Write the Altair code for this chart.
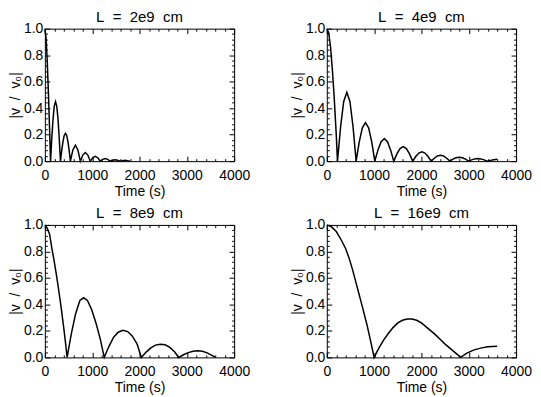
import altair as alt
import pandas as pd

FONT = "Liberation Sans"

TITLES = ["L\u00a0\u00a0=\u00a0\u00a02e9\u00a0\u00a0cm", "L\u00a0\u00a0=\u00a0\u00a04e9\u00a0\u00a0cm",
          "L\u00a0\u00a0=\u00a0\u00a08e9\u00a0\u00a0cm", "L\u00a0\u00a0=\u00a0\u00a016e9\u00a0\u00a0cm"]
X_TITLE = "Time (s)"
Y_TITLE = "|v\u00a0\u00a0/\u00a0\u00a0v\u2080|"

# tick positions (major ticks are every 1000 s and every 0.2)
X_TICKS = [0, 200, 400, 600, 800, 1000, 1200, 1400, 1600, 1800, 2000, 2200, 2400,
           2600, 2800, 3000, 3200, 3400, 3600, 3800, 4000]
Y_TICKS = [0.0, 0.04, 0.08, 0.12, 0.16, 0.2, 0.24, 0.28, 0.32, 0.36, 0.4, 0.44, 0.48,
           0.52, 0.56, 0.6, 0.64, 0.68, 0.72, 0.76, 0.8, 0.84, 0.88, 0.92, 0.96, 1.0]

# L = 2e9 cm
P1_T = [0, 25, 50, 75, 100, 120, 146, 173, 199, 225, 251, 278, 304, 330,
        356, 383, 409, 435, 461, 488, 514, 540,
        592, 645, 698, 750, 802, 855, 908, 960, 1012, 1065, 1118, 1170,
        1222, 1275, 1328, 1380, 1432, 1485, 1538, 1590, 1642, 1695, 1748, 1800]
P1_V = [1.0, 0.93, 0.76, 0.52, 0.24, 0.0, 0.172, 0.318, 0.416, 0.45, 0.416, 0.318, 0.172, 0.0,
        0.080, 0.148, 0.194, 0.21, 0.194, 0.148, 0.080, 0.0,
        0.085, 0.12, 0.085, 0.0, 0.046, 0.065, 0.046, 0.0, 0.026, 0.037, 0.026, 0.0,
        0.014, 0.02, 0.014, 0.0, 0.007, 0.01, 0.007, 0.0, 0.004, 0.006, 0.004, 0.0]

# L = 4e9 cm
P2_T = [0, 40, 80, 120, 160, 200, 226, 292, 358, 423, 489, 555, 620,
        686, 752, 818, 884, 950, 1015, 1082, 1148, 1215, 1282, 1348, 1415,
        1482, 1548, 1615, 1682, 1748, 1815, 1880, 1945, 2010, 2075, 2140, 2205,
        2271, 2337, 2403, 2469, 2535, 2600, 2666, 2732, 2798, 2864, 2930, 2995,
        3061, 3127, 3193, 3259, 3325, 3390, 3460, 3530, 3600]
P2_V = [1.0, 0.97, 0.86, 0.68, 0.46, 0.2, 0.0, 0.26, 0.45, 0.52, 0.45, 0.26, 0.0,
        0.145, 0.251, 0.29, 0.251, 0.145, 0.0, 0.085, 0.147, 0.17, 0.147, 0.085, 0.0,
        0.055, 0.095, 0.11, 0.095, 0.055, 0.0, 0.035, 0.061, 0.07, 0.061, 0.035, 0.0,
        0.022, 0.039, 0.045, 0.039, 0.022, 0.0, 0.015, 0.026, 0.03, 0.026, 0.015, 0.0,
        0.01, 0.017, 0.02, 0.017, 0.01, 0.0, 0.006, 0.011, 0.014]

# L = 8e9 cm
P3_T = [0, 50, 100, 150, 200, 250, 300, 350, 400, 440, 470,
        560, 650, 740, 820, 900, 990, 1080, 1170, 1255,
        1350, 1450, 1550, 1650, 1750, 1850, 1950, 2040,
        2140, 2240, 2340, 2440, 2540, 2640, 2740, 2830,
        2930, 3030, 3130, 3230, 3330, 3430, 3530, 3600]
P3_V = [1.0, 0.975, 0.93, 0.82, 0.72, 0.61, 0.49, 0.36, 0.22, 0.10, 0.0,
        0.18, 0.33, 0.43, 0.45, 0.43, 0.36, 0.26, 0.14, 0.0,
        0.08, 0.15, 0.19, 0.205, 0.195, 0.16, 0.10, 0.0,
        0.04, 0.072, 0.093, 0.10, 0.095, 0.075, 0.043, 0.0,
        0.02, 0.036, 0.047, 0.05, 0.046, 0.034, 0.016, 0.002]

# L = 16e9 cm
P4_T = [0, 100, 200, 300, 400, 480, 550, 650, 750, 850, 950, 1000,
        1100, 1200, 1300, 1400, 1500, 1600, 1700, 1800, 1900, 2000, 2100, 2200,
        2300, 2400, 2500, 2600, 2700, 2830, 2950, 3100, 3250, 3400, 3600]
P4_V = [1.0, 0.985, 0.95, 0.89, 0.82, 0.74, 0.655, 0.52, 0.385, 0.245, 0.085, 0.0,
        0.07, 0.13, 0.18, 0.225, 0.26, 0.28, 0.29, 0.29, 0.28, 0.26, 0.23, 0.2,
        0.17, 0.135, 0.10, 0.07, 0.04, 0.0, 0.03, 0.055, 0.07, 0.08, 0.085]

W, H = 190, 133
MAJ, MIN = 5, 2.5

X_MAJOR_TEST = "datum.value % 1000 === 0"
Y_MAJOR_TEST = "abs(datum.value * 5 - round(datum.value * 5)) < 0.001"


def tick_dash(test, length):
    # grid lines drawn as short inward ticks at both ends of the plot box
    return {"condition": {"test": test, "value": [MAJ, length - 2 * MAJ, MAJ, 2000]},
            "value": [MIN, length - 2 * MIN, MIN, 2000]}


def axis(values, fmt, test, length, title, pad, tpad):
    return alt.Axis(
        values=values, format=fmt,
        labelExpr=f"({test}) ? datum.label : ''",
        ticks=False, domain=False,
        grid=True, gridColor="black", gridOpacity=1, gridWidth=1,
        gridDash=tick_dash(test, length),
        labelFlush=False, labelOverlap=False,
        labelFont=FONT, labelFontSize=14, labelColor="black", labelPadding=pad,
        title=title, titleFont=FONT, titleFontSize=14, titleFontWeight="normal",
        titleColor="black", titlePadding=tpad,
    )


def panel(t, v, title):
    df = pd.DataFrame({"t": t, "v": v})
    return alt.Chart(df).mark_line(color="black", strokeWidth=1.5).encode(
        x=alt.X("t:Q", scale=alt.Scale(domain=[0, 4000], nice=False, zero=False),
                axis=axis(X_TICKS, "d", X_MAJOR_TEST, H, X_TITLE, 7, 2)),
        y=alt.Y("v:Q", scale=alt.Scale(domain=[0, 1], nice=False),
                axis=axis(Y_TICKS, ".1f", Y_MAJOR_TEST, W, Y_TITLE, 2, 1)),
    ).properties(
        width=W, height=H,
        title=alt.TitleParams(text=title, font=FONT, fontSize=15, fontWeight="normal",
                              color="black", offset=-3, anchor="middle", frame="group"),
    )


chart = alt.concat(
    panel(P1_T, P1_V, TITLES[0]),
    panel(P2_T, P2_V, TITLES[1]),
    panel(P3_T, P3_V, TITLES[2]),
    panel(P4_T, P4_V, TITLES[3]),
    columns=2,
    spacing={"row": 64, "column": 93},
    bounds="flush",
).properties(
    padding={"left": 0, "top": 0, "right": 0, "bottom": 0},
).configure_view(stroke="black", strokeWidth=1)

chart.save("out.html", embed_options={"renderer": "svg", "actions": False})
